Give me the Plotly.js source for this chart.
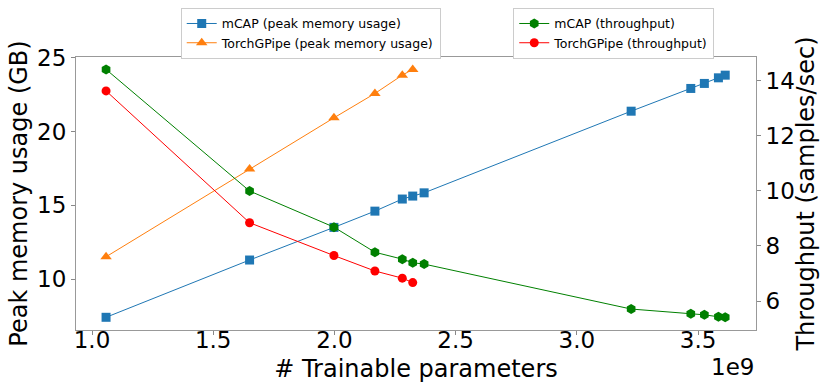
<!DOCTYPE html>
<html><head><meta charset="utf-8">
<script src="https://cdn.plot.ly/plotly-3.0.1.min.js"></script>
<style>html,body{margin:0;padding:0;background:#fff}</style>
</head><body><div id="chart" style="width:820px;height:383px"></div>
<script>
const params = [1.058e9, 1.65e9, 1.998e9, 2.167e9, 2.28e9, 2.323e9, 2.37e9, 3.224e9, 3.47e9, 3.526e9, 3.584e9, 3.612e9];
const paramsGPipe = [1.058e9, 1.65e9, 1.998e9, 2.167e9, 2.28e9, 2.323e9];
const mcapMemory = [7.42, 11.30, 13.51, 14.61, 15.43, 15.63, 15.85, 21.38, 22.92, 23.26, 23.64, 23.82];
const gpipeMemory = [11.52, 17.46, 20.93, 22.58, 23.82, 24.21];
const mcapThroughput = [14.40, 9.99, 8.68, 7.77, 7.52, 7.39, 7.34, 5.71, 5.54, 5.50, 5.43, 5.41];
const gpipeThroughput = [13.62, 8.84, 7.65, 7.09, 6.83, 6.67];
const xTickVals = [1e9, 1.5e9, 2e9, 2.5e9, 3e9, 3.5e9];
const xTickText = ['1.0', '1.5', '2.0', '2.5', '3.0', '3.5'];

const font = 'DejaVu Sans, sans-serif';
const traces = [
  {x: params, y: mcapMemory, name: 'mCAP (peak memory usage)', mode: 'lines+markers',
   line: {color: '#1f77b4', width: 1}, marker: {symbol: 'square', size: 9, color: '#1f77b4'}, legend: 'legend'},
  {x: paramsGPipe, y: gpipeMemory, name: 'TorchGPipe (peak memory usage)', mode: 'lines+markers',
   line: {color: '#ff7f0e', width: 1}, marker: {symbol: 'triangle-up', size: 10, color: '#ff7f0e'}, legend: 'legend'},
  {x: params, y: mcapThroughput, name: 'mCAP (throughput)', mode: 'lines+markers', yaxis: 'y2',
   line: {color: 'green', width: 1}, marker: {symbol: 'hexagon', size: 10, color: 'green'}, legend: 'legend2'},
  {x: paramsGPipe, y: gpipeThroughput, name: 'TorchGPipe (throughput)', mode: 'lines+markers', yaxis: 'y2',
   line: {color: 'red', width: 1}, marker: {symbol: 'circle', size: 9, color: 'red'}, legend: 'legend2'}
];
const axisCommon = {showgrid: false, zeroline: false, ticks: 'outside', ticklen: 4, tickcolor: '#888',
  linecolor: '#999', linewidth: 1, automargin: false, tickfont: {family: font, size: 23, color: '#000'}};
const layout = {
  width: 820, height: 383,
  margin: {l: 76, r: 64, t: 57, b: 53, autoexpand: false},
  paper_bgcolor: '#fff', plot_bgcolor: '#fff',
  font: {family: font, color: '#000'},
  xaxis: Object.assign({}, axisCommon, {range: [0.934e9, 3.739e9], tickvals: xTickVals,
    ticktext: xTickText, showline: true, mirror: true, ticklabelstandoff: -15,
    title: {text: '# Trainable parameters', font: {family: font, size: 24}, standoff: 8}}),
  yaxis: Object.assign({}, axisCommon, {range: [6.56, 25.05], tickvals: [10, 15, 20, 25], showline: true,
    title: {text: 'Peak memory usage (GB)', font: {family: font, size: 24}, standoff: 2}}),
  yaxis2: Object.assign({}, axisCommon, {range: [4.95, 14.85], tickvals: [6, 8, 10, 12, 14], overlaying: 'y', side: 'right', showline: true,
    title: {text: 'Throughput (samples/sec)', font: {family: font, size: 24}, standoff: 0}}),
  legend: {x: 0.154, y: 1.18, xanchor: 'left', yanchor: 'top', bgcolor: '#fff', bordercolor: '#ccc', borderwidth: 1,
    font: {family: font, size: 12.5}, tracegroupgap: 0, itemwidth: 30},
  legend2: {x: 0.643, y: 1.18, xanchor: 'left', yanchor: 'top', bgcolor: '#fff', bordercolor: '#ccc', borderwidth: 1,
    font: {family: font, size: 12.5}, tracegroupgap: 0, itemwidth: 30},
  showlegend: true,
  annotations: [{text: '1e9', xref: 'paper', yref: 'paper', x: 1, y: -0.192, xanchor: 'right', yanchor: 'bottom',
    showarrow: false, font: {family: font, size: 23}}]
};
Plotly.newPlot('chart', traces, layout, {displayModeBar: false, staticPlot: true});
</script></body></html>
